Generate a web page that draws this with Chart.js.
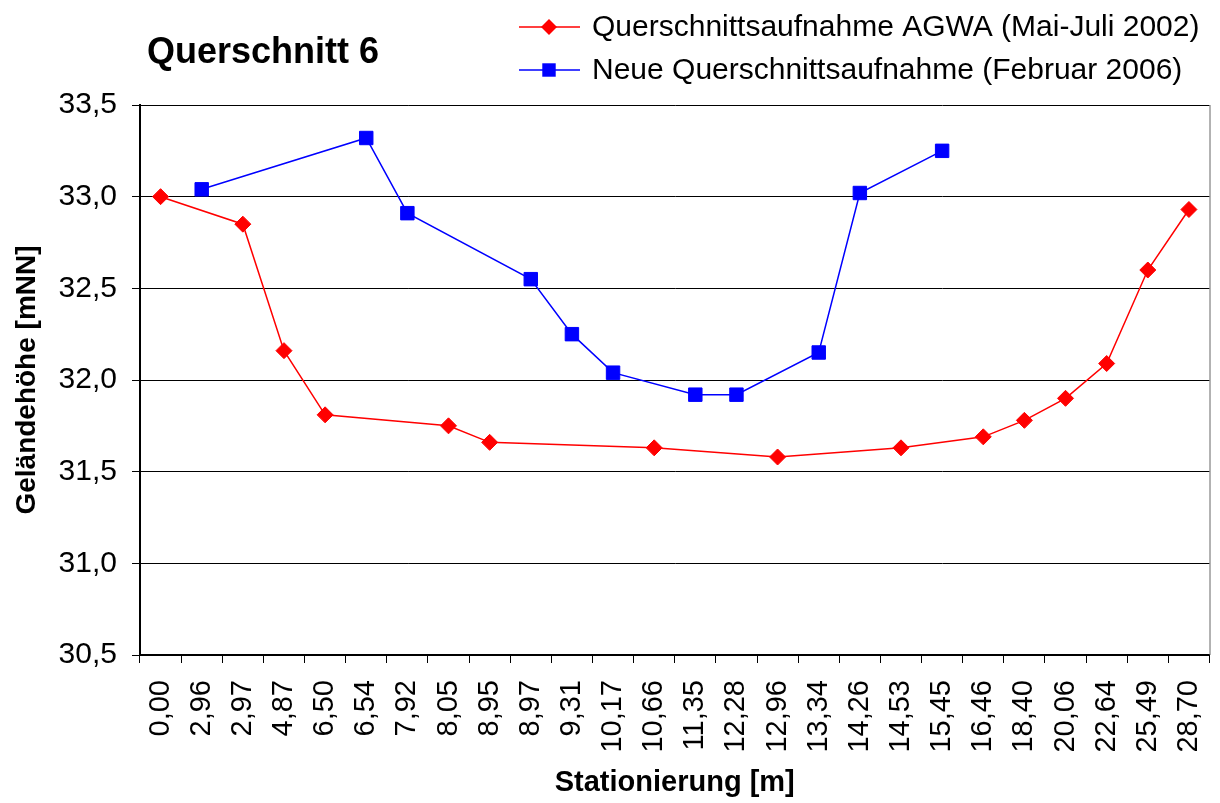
<!DOCTYPE html>
<html>
<head>
<meta charset="utf-8">
<script src="https://cdn.jsdelivr.net/npm/chart.js@4/dist/chart.umd.min.js"></script>
<style>
  body { margin: 0; background: #fff; }
  #wrap { width: 1220px; height: 803px; }
</style>
</head>
<body>
<div id="wrap"><canvas id="lineChart" width="1220" height="803"></canvas></div>
<script>
"use strict"

// Stationierung [m] - Kategorien der x-Achse
const stations = ['0,00', '2,96', '2,97', '4,87', '6,50', '6,54', '7,92', '8,05', '8,95', '8,97',
  '9,31', '10,17', '10,66', '11,35', '12,28', '12,96', '13,34', '14,26', '14,53', '15,45',
  '16,46', '18,40', '20,06', '22,64', '25,49', '28,70'];

// Querschnittsaufnahme AGWA (Mai-Juli 2002)
const agwa2002 = [33.00, null, 32.85, 32.16, 31.81, null, null, 31.75, 31.66, null,
  null, null, 31.63, null, null, 31.58, null, null, 31.63, null,
  31.69, 31.78, 31.90, 32.09, 32.60, 32.93];

// Neue Querschnittsaufnahme (Februar 2006)
const neu2006 = [null, 33.04, null, null, null, 33.32, 32.91, null, null, 32.55,
  32.25, 32.04, null, 31.92, 31.92, null, 32.15, 33.02, null, 33.25,
  null, null, null, null, null, null];

const seriesNames = ['Querschnittsaufnahme AGWA (Mai-Juli 2002)', 'Neue Querschnittsaufnahme (Februar 2006)'];
const chartTitle = 'Querschnitt 6';

const FONT = "'Liberation Sans', Arial, sans-serif";

// Titel, Legende und rechter Rahmen
const decorations = {
  id: 'decorations',
  afterDraw(chart) {
    const ctx = chart.ctx;
    const area = chart.chartArea;
    ctx.save();

    // rechter Rahmen
    ctx.strokeStyle = '#666';
    ctx.lineWidth = 1;
    ctx.beginPath();
    ctx.moveTo(area.right + 0.5, area.top);
    ctx.lineTo(area.right + 0.5, area.bottom);
    ctx.stroke();

    // Titel
    ctx.fillStyle = '#000';
    ctx.font = 'bold 36px ' + FONT;
    ctx.textAlign = 'left';
    ctx.textBaseline = 'alphabetic';
    ctx.fillText(chartTitle, 147, 63);

    // Legende
    const rows = [27, 70];
    chart.data.datasets.forEach(function(ds, i) {
      const y = rows[i];
      ctx.strokeStyle = ds.borderColor;
      ctx.lineWidth = 1.5;
      ctx.beginPath();
      ctx.moveTo(519, y);
      ctx.lineTo(580, y);
      ctx.stroke();
      ctx.fillStyle = ds.pointBackgroundColor;
      ctx.strokeStyle = ds.borderColor;
      ctx.lineWidth = 1;
      Chart.helpers.drawPoint(ctx, { pointStyle: ds.pointStyle, radius: ds.pointRadius, rotation: 0 }, 549, y);
      ctx.fillStyle = '#000';
      ctx.font = '30px ' + FONT;
      ctx.textBaseline = 'middle';
      ctx.fillText(ds.label, 592, y + 1);
    });
    ctx.restore();
  }
};

const ctx = document.getElementById('lineChart').getContext('2d');

new Chart(ctx, {
  type: 'line',
  data: {
    labels: stations,
    datasets: [{
      label: seriesNames[0],
      data: agwa2002,
      borderColor: '#ff0000',
      backgroundColor: '#ff0000',
      pointBackgroundColor: '#ff0000',
      pointStyle: 'rectRot',
      pointRadius: 8,
      borderWidth: 1.5,
      pointBorderWidth: 1,
      spanGaps: true,
      tension: 0
    }, {
      label: seriesNames[1],
      data: neu2006,
      borderColor: '#0000ff',
      backgroundColor: '#0000ff',
      pointBackgroundColor: '#0000ff',
      pointStyle: 'rect',
      pointRadius: 9.5,
      borderWidth: 1.5,
      pointBorderWidth: 1,
      spanGaps: true,
      tension: 0
    }]
  },
  options: {
    responsive: false,
    animation: false,
    layout: { padding: { top: 105, right: 8, bottom: 0, left: 0 } },
    plugins: {
      legend: { display: false },
      title: { display: false },
      tooltip: { enabled: false }
    },
    scales: {
      x: {
        type: 'category',
        offset: true,
        afterFit: function(scale) {
          scale.height = 148;
          scale.paddingLeft = 0;
          scale.paddingRight = 0;
        },
        grid: { offset: true, drawOnChartArea: false, drawTicks: true, tickLength: 8, color: '#000' },
        border: { color: '#000', width: 2 },
        ticks: {
          color: '#000',
          minRotation: 90,
          maxRotation: 90,
          autoSkip: false,
          padding: 17,
          font: { family: FONT, size: 29 }
        },
        title: {
          display: true,
          text: 'Stationierung [m]',
          color: '#000',
          font: { family: FONT, size: 29, weight: 'bold' },
          padding: { top: 0, bottom: 3 }
        }
      },
      y: {
        min: 30.5,
        max: 33.5,
        afterFit: function(scale) {
          scale.width = 140;
          scale.paddingTop = 0;
          scale.paddingBottom = 0;
        },
        grid: { color: '#000', lineWidth: 1, tickLength: 8 },
        border: { color: '#000', width: 2 },
        ticks: {
          stepSize: 0.5,
          color: '#000',
          padding: 15,
          font: { family: FONT, size: 30 },
          callback: function(v) { return v.toFixed(1).replace('.', ','); }
        },
        title: {
          display: true,
          text: 'Geländehöhe [mNN]',
          color: '#000',
          font: { family: FONT, size: 28, weight: 'bold' },
          padding: { top: 10, bottom: 0 }
        }
      }
    }
  },
  plugins: [decorations]
});
</script>
</body>
</html>
